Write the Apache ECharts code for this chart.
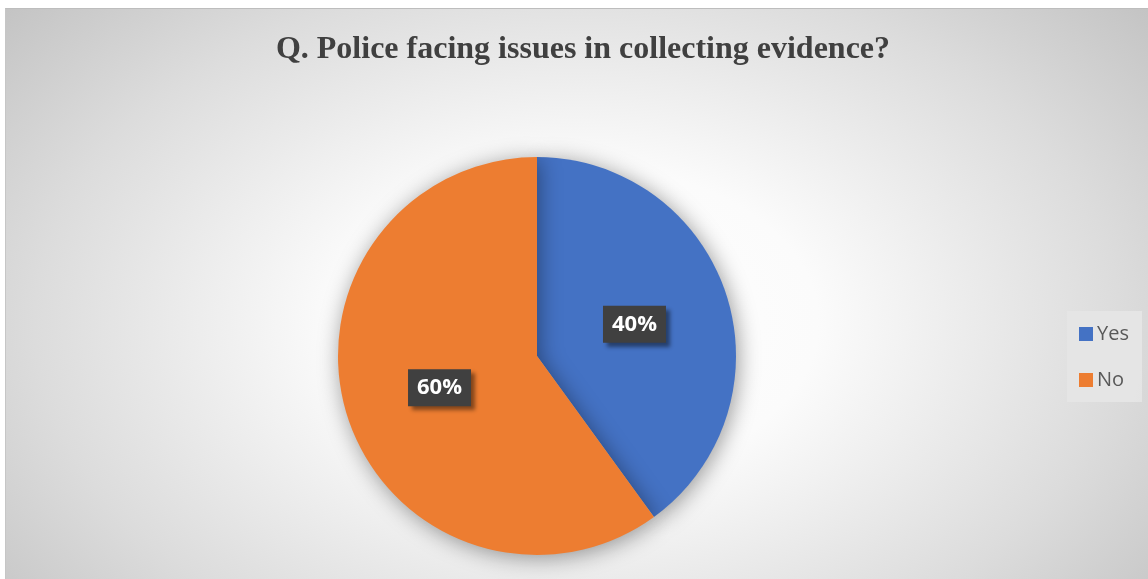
<!DOCTYPE html>
<html>
<head>
<meta charset="utf-8">
<script src="https://cdn.jsdelivr.net/npm/echarts@6/dist/echarts.min.js"></script>
<style>
  html, body { margin: 0; padding: 0; background: #ffffff; }
  #frame {
    position: absolute; left: 5px; top: 8px; width: 1143px; height: 571px;
    background: radial-gradient(ellipse 66% 86% at 50% 55%, #ffffff 0%, #fbfbfb 32%, #dcdcdc 72%, #c3c3c3 100%);
    border-top: 1px solid #bdbdbd; border-left: 1px solid #c6c6c6;
    box-sizing: border-box;
  }
  #chart { position: absolute; left: 0; top: 0; width: 1148px; height: 579px; }
</style>
</head>
<body>
<div id="frame"></div>
<div id="chart"></div>
<script>
const titleText = 'Q. Police facing issues in collecting evidence?';
const categories = ['Yes', 'No'];
const values = [40, 60];
const colors = ['#4472c4', '#ed7d31'];

const chart = echarts.init(document.getElementById('chart'), null, { renderer: 'canvas' });
chart.setOption({
  backgroundColor: 'transparent',
  animation: false,
  title: {
    text: titleText,
    left: 578, top: 29, textAlign: 'center',
    textStyle: { fontFamily: 'Liberation Serif', fontWeight: 'bold', fontSize: 32, color: '#404040' }
  },
  graphic: [{
    type: 'rect', left: 1067, top: 311, z: -1,
    shape: { width: 75, height: 91 },
    style: { fill: 'rgba(230,230,230,0.9)' }
  }],
  legend: {
    orient: 'vertical',
    left: 1067, top: 311,
    padding: [13, 12, 13, 12],
    itemGap: 26,
    itemWidth: 14, itemHeight: 14,
    icon: 'rect',
    textStyle: { fontFamily: 'Open Sans', fontSize: 20, color: '#595959', padding: [0, 0, 0, -1] },
    data: categories
  },
  series: [{
    type: 'pie',
    center: [537, 356],
    radius: [0, 199],
    startAngle: 90,
    clockwise: true,
    itemStyle: { shadowBlur: 22, shadowColor: 'rgba(0,0,0,0.4)', shadowOffsetX: 2, shadowOffsetY: 3 },
    label: {
      show: true,
      position: 'inside',
      formatter: '{d}%',
      fontFamily: 'Open Sans', fontWeight: 'bold', fontSize: 22, color: '#ffffff',
      backgroundColor: '#404040',
      padding: [8, 9, 7, 9],
      shadowBlur: 4, shadowColor: 'rgba(0,0,0,0.45)', shadowOffsetX: 4, shadowOffsetY: 4
    },
    labelLine: { show: false },
    data: categories.map((c, i) => ({ name: c, value: values[i], itemStyle: { color: colors[i] } }))
  }]
});
</script>
</body>
</html>
